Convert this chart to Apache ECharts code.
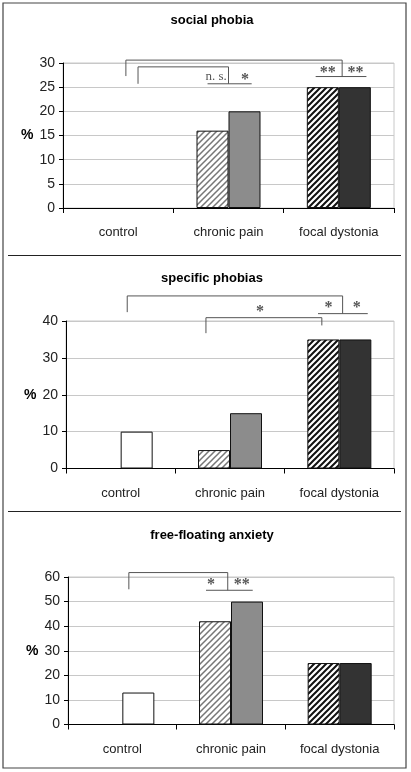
<!DOCTYPE html>
<html>
<head>
<meta charset="utf-8">
<script src="https://cdn.jsdelivr.net/npm/echarts@6/dist/echarts.min.js"></script>
<style>
html,body{margin:0;padding:0;background:#fff;}
#chart{width:411px;height:772px;}
</style>
</head>
<body>
<div id="chart"></div>
<script>
// ---- data ----
const CATEGORIES = ['control', 'chronic pain', 'focal dystonia'];
const TITLES = ['social phobia', 'specific phobias', 'free-floating anxiety'];
// first bar of each group (hatched), second bar (solid / white for control)
const HATCHED_SOCIAL = [0, 16, 25];
const SOLID_SOCIAL = [0, 20, 25];
const HATCHED_SPECIFIC = [0, 5, 35];
const SOLID_SPECIFIC = [10, 15, 35];
const HATCHED_ANXIETY = [0, 42, 25];
const SOLID_ANXIETY = [13, 50, 25];
const Y_MAX = [30, 40, 60];
const Y_STEP = [5, 10, 10];
// significance brackets: [xFrom, xTo (category index units), yTop, yLeftEnd, yRightEnd]
const BRACKETS_SOCIAL = [[0.07, 2.03, 30.6, 27.3, 27.1], [0.18, 1.0, 29.2, 25.7, 25.7]];
const BRACKETS_SPECIFIC = [[0.06, 2.03, 46.8, 42.4, 42.0], [0.78, 1.84, 40.9, 36.7, 38.8]];
const BRACKETS_ANXIETY = [[0.06, 0.97, 61.8, 55.0, 54.6]];
// short comparison lines: [xFrom, xTo, y]
const SIGLINES_SOCIAL = [[1.79, 2.25, 27.2], [0.81, 1.21, 25.7]];
const SIGLINES_SPECIFIC = [[1.805, 2.26, 42.0]];
const SIGLINES_ANXIETY = [[0.77, 1.20, 54.6]];
// significance labels: [x, y, text]
const SIGLABELS_SOCIAL = [[1.90, 28.6, '**'], [2.15, 28.6, '**'], [0.887, 27.1, 'n. s.'], [1.15, 27.1, '*']];
const SIGLABELS_SPECIFIC = [[1.90, 44.3, '*'], [2.16, 44.3, '*'], [1.275, 43.2, '*']];
const SIGLABELS_ANXIETY = [[0.815, 58.0, '*'], [1.10, 58.0, '**']];

const HATCHED = [HATCHED_SOCIAL, HATCHED_SPECIFIC, HATCHED_ANXIETY];
const SOLID = [SOLID_SOCIAL, SOLID_SPECIFIC, SOLID_ANXIETY];
const BRACKETS = [BRACKETS_SOCIAL, BRACKETS_SPECIFIC, BRACKETS_ANXIETY];
const SIGLINES = [SIGLINES_SOCIAL, SIGLINES_SPECIFIC, SIGLINES_ANXIETY];
const SIGLABELS = [SIGLABELS_SOCIAL, SIGLABELS_SPECIFIC, SIGLABELS_ANXIETY];

// ---- patterns ----
function hatch(lineColor, lw, size) {
  const c = document.createElement('canvas');
  c.width = size; c.height = size;
  const g = c.getContext('2d');
  g.fillStyle = '#fff';
  g.fillRect(0, 0, size, size);
  g.strokeStyle = lineColor;
  g.lineWidth = lw;
  g.beginPath();
  for (let k = -1; k <= 1; k++) {
    g.moveTo(-1 + k * size, size + 1);
    g.lineTo(size + 1 + k * size, -1);
  }
  g.stroke();
  return { image: c, repeat: 'repeat' };
}
const LIGHT_HATCH = hatch('#777', 1.5, 6);
const DARK_HATCH = hatch('#111', 2.0, 6);
const HATCH_COLORS = ['#ffffff', LIGHT_HATCH, DARK_HATCH];
const SOLID_COLORS = ['#ffffff', '#8c8c8c', '#333333'];

// ---- layout ----
const GRIDS = [
  { left: 63, top: 63, height: 145, right: 17 },
  { left: 66, top: 321, height: 147.5, right: 17 },
  { left: 68, top: 577, height: 147.5, right: 17 }
];
const TITLE_TOPS = [9, 267, 524];

const FONT = 'Liberation Sans, Arial, sans-serif';
const SERIF = 'Liberation Serif, Times New Roman, serif';

const option = {
  animation: false,
  backgroundColor: '#fff',
  title: TITLES.map((t, i) => ({
    text: t, left: 207, top: TITLE_TOPS[i], textAlign: 'center',
    textStyle: { fontFamily: FONT, fontSize: 13, fontWeight: 'bold', color: '#000' }
  })),
  grid: GRIDS.map(g => Object.assign({ show: true, borderColor: '#c8c8c8', borderWidth: 1, backgroundColor: 'transparent' }, g)),
  xAxis: GRIDS.map((g, i) => ({
    type: 'category', gridIndex: i, data: CATEGORIES,
    axisLine: { lineStyle: { color: '#000', width: 1 } },
    axisTick: { show: true, length: 5, lineStyle: { color: '#000' } },
    axisLabel: { margin: 18, fontFamily: FONT, fontSize: 13, color: '#222' },
    splitLine: { show: false }
  })),
  yAxis: GRIDS.map((g, i) => ({
    type: 'value', gridIndex: i, min: 0, max: Y_MAX[i], interval: Y_STEP[i],
    name: '%', nameLocation: 'middle', nameRotate: 0, nameGap: 28,
    nameTextStyle: { fontFamily: FONT, fontSize: 14, fontWeight: 'bold', color: '#000' },
    axisLine: { show: true, lineStyle: { color: '#000', width: 1 } },
    axisTick: { show: true, length: 4, lineStyle: { color: '#000' } },
    axisLabel: { margin: 8, fontFamily: FONT, fontSize: 14, color: '#222' },
    splitLine: { show: true, lineStyle: { color: '#c8c8c8', width: 1 } }
  })),
  series: [],
  graphic: [
    { type: 'rect', shape: { x: 3, y: 3, width: 403, height: 765 }, style: { fill: 'none', stroke: '#444', lineWidth: 1.2 }, silent: true },
    { type: 'line', shape: { x1: 8, y1: 255.5, x2: 401, y2: 255.5 }, style: { stroke: '#222', lineWidth: 1.2 }, silent: true },
    { type: 'line', shape: { x1: 8, y1: 511.5, x2: 401, y2: 511.5 }, style: { stroke: '#222', lineWidth: 1.2 }, silent: true }
  ]
};

function xAt(api, x, y) {
  const a = api.coord([0, y]);
  const b = api.coord([1, y]);
  return [a[0] + (b[0] - a[0]) * x, a[1]];
}

function barItems(values, colors) {
  return values.map((v, i) => ({
    value: v,
    itemStyle: { color: colors[i], borderWidth: v === 0 ? 0 : 1 }
  }));
}

for (let p = 0; p < 3; p++) {
  option.series.push({
    type: 'bar', xAxisIndex: p, yAxisIndex: p, barWidth: 32, barGap: '0%',
    data: barItems(HATCHED[p], HATCH_COLORS),
    itemStyle: { borderColor: '#111', borderWidth: 1 }
  });
  option.series.push({
    type: 'bar', xAxisIndex: p, yAxisIndex: p, barWidth: 32, barGap: '0%',
    data: barItems(SOLID[p], SOLID_COLORS),
    itemStyle: { borderColor: '#111', borderWidth: 1 }
  });
  // brackets
  option.series.push({
    type: 'custom', xAxisIndex: p, yAxisIndex: p, clip: false, silent: true, z: 5,
    data: BRACKETS[p].map(b => [0, b[0], b[1], b[2], b[3], b[4]]),
    encode: { x: 0, y: 3 },
    renderItem: function (params, api) {
      const top = api.value(3);
      const pL = xAt(api, api.value(1), top);
      const pR = xAt(api, api.value(2), top);
      const bL = xAt(api, api.value(1), api.value(4));
      const bR = xAt(api, api.value(2), api.value(5));
      return {
        type: 'polyline',
        shape: { points: [[bL[0], bL[1]], [pL[0], pL[1]], [pR[0], pR[1]], [bR[0], bR[1]]] },
        style: { stroke: '#555', lineWidth: 1, fill: null }
      };
    }
  });
  option.series.push({
    type: 'custom', xAxisIndex: p, yAxisIndex: p, clip: false, silent: true, z: 5,
    data: SIGLINES[p].map(s => [0, s[0], s[1], s[2]]),
    encode: { x: 0, y: 3 },
    renderItem: function (params, api) {
      const a = xAt(api, api.value(1), api.value(3));
      const b = xAt(api, api.value(2), api.value(3));
      return {
        type: 'line',
        shape: { x1: a[0], y1: a[1], x2: b[0], y2: b[1] },
        style: { stroke: '#555', lineWidth: 1 }
      };
    }
  });
  const labels = SIGLABELS[p];
  option.series.push({
    type: 'custom', xAxisIndex: p, yAxisIndex: p, clip: false, silent: true, z: 6,
    data: labels.map(s => [0, s[0], s[1]]),
    encode: { x: 0, y: 2 },
    renderItem: function (params, api) {
      const pt = xAt(api, api.value(1), api.value(2));
      const txt = labels[params.dataIndex][2];
      const isStar = txt.indexOf('*') >= 0;
      return {
        type: 'text',
        style: {
          text: txt, x: pt[0], y: pt[1] + (isStar ? 3 : 0),
          align: 'center', verticalAlign: 'middle',
          font: (isStar ? 'bold 16px ' : '13px ') + SERIF,
          fill: '#555'
        }
      };
    }
  });
}

const chart = echarts.init(document.getElementById('chart'), null, { renderer: 'canvas' });
chart.setOption(option);
</script>
</body>
</html>
